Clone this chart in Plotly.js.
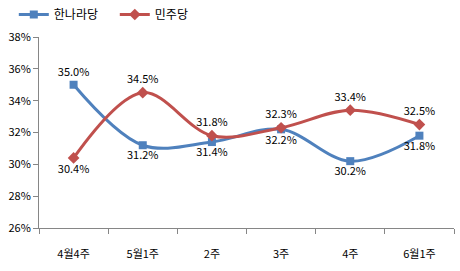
<!DOCTYPE html>
<html><head><meta charset="utf-8">
<script src="https://cdn.plot.ly/plotly-3.0.1.min.js"></script>
<style>html,body{margin:0;padding:0;background:#fff}#c{width:460px;height:271px}</style>
</head><body><div id="c"></div>
<script>
const categories = ['4월4주','5월1주','2주','3주','4주','6월1주'];
const hannara = [35.0, 31.2, 31.4, 32.2, 30.2, 31.8];
const minju = [30.4, 34.5, 31.8, 32.3, 33.4, 32.5];
const hannaraPos = ['top center','bottom center','bottom center','bottom center','bottom center','bottom center'];
const minjuPos = ['bottom center','top center','top center','top center','top center','top center'];
const yTicks = [26,28,30,32,34,36,38];

const font = {family:'"Noto Sans CJK KR", "Noto Sans", sans-serif', size:11, color:'#000'};
const legFont = {family:'"Noto Sans CJK KR", "Noto Sans", sans-serif', size:12, color:'#000'};
const fmt = v => v.toFixed(1) + '%';

const traces = [
  {x:categories, y:hannara, name:'한나라당', type:'scatter', mode:'lines+markers+text',
   line:{color:'#4F81BD', width:3, shape:'spline'},
   marker:{symbol:'square', size:8, color:'#4F81BD'},
   text:hannara.map(fmt), textposition:hannaraPos, textfont:font, cliponaxis:false},
  {x:categories, y:minju, name:'민주당', type:'scatter', mode:'lines+markers+text',
   line:{color:'#C0504D', width:3, shape:'spline'},
   marker:{symbol:'diamond', size:9, color:'#C0504D'},
   text:minju.map(fmt), textposition:minjuPos, textfont:font, cliponaxis:false}
];

const layout = {
  width:460, height:271,
  margin:{l:39, r:6, t:37, b:43},
  paper_bgcolor:'#fff', plot_bgcolor:'#fff',
  font:font,
  showlegend:true,
  legend:{orientation:'h', x:0.03, y:1, xref:'container', yref:'container', xanchor:'left', yanchor:'top',
          font:legFont, itemwidth:30, tracegroupgap:0, entrywidth:56, bgcolor:'rgba(0,0,0,0)'},
  xaxis:{type:'category', showgrid:false, zeroline:false, showline:true, linecolor:'#868686', linewidth:1,
         ticks:'outside', ticklen:5, tickcolor:'#868686', tickson:'boundaries', tickfont:font,
         ticklabelstandoff:16, range:[-0.5,5.5], fixedrange:true},
  yaxis:{range:[26,38], tickvals:yTicks, ticktext:yTicks.map(v=>v+'%'), showgrid:false, zeroline:false,
         showline:true, linecolor:'#868686', linewidth:1, ticks:'outside', ticklen:5, tickcolor:'#868686',
         tickfont:font, fixedrange:true}
};
Plotly.newPlot('c', traces, layout, {staticPlot:true, displayModeBar:false});
</script></body></html>
